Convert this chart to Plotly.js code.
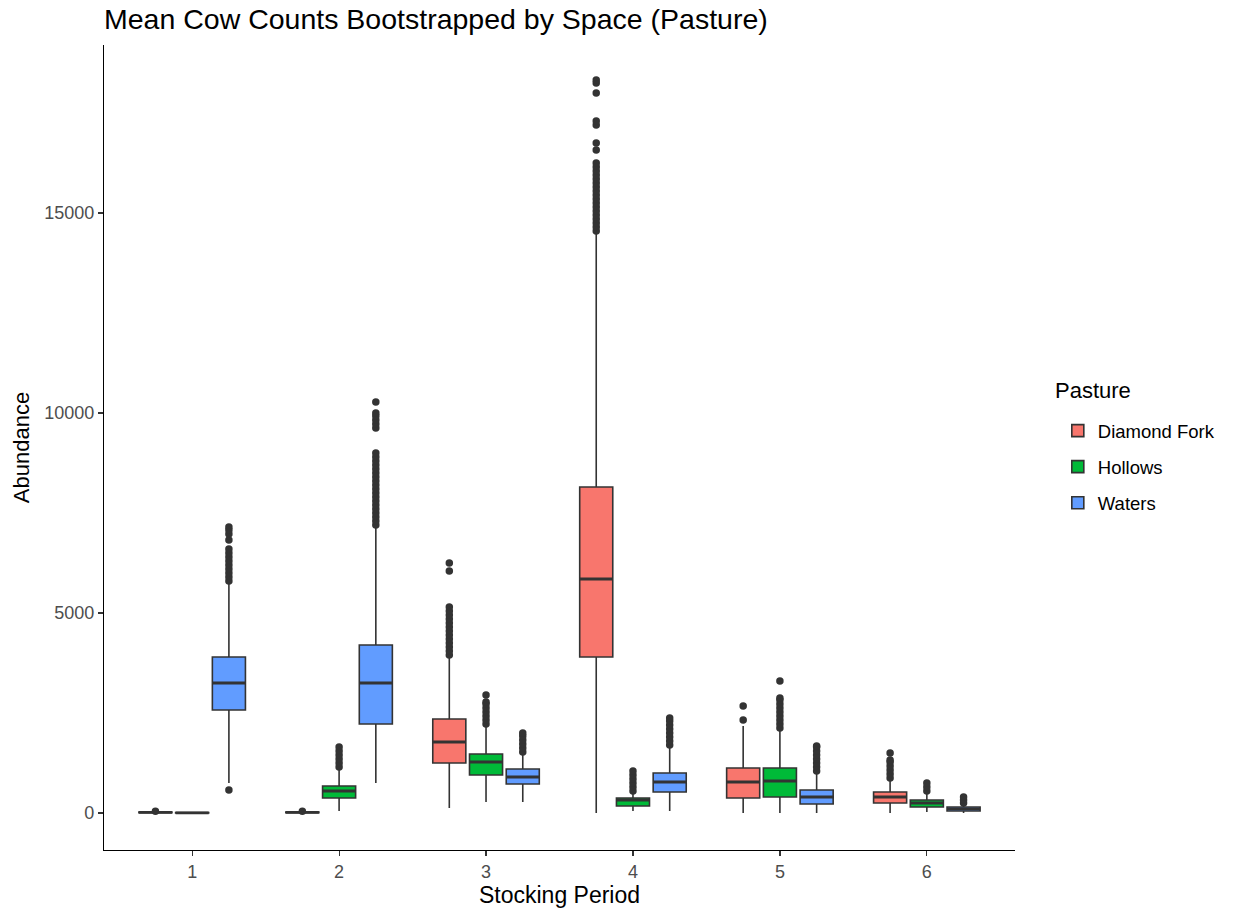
<!DOCTYPE html>
<html><head><meta charset="utf-8">
<script src="https://cdn.plot.ly/plotly-3.0.1.min.js"></script>
<style>body{margin:0;background:#fff}#chart{width:1235px;height:911px}</style>
</head><body><div id="chart"></div><script>
const periods = [1, 2, 3, 4, 5, 6];
const periodLabels = ["1", "2", "3", "4", "5", "6"];
const pastures = ["Diamond Fork", "Hollows", "Waters"];
const colors = ["#F8766D", "#00BA38", "#619CFF"];

// Diamond Fork
const dfQ1 = [5, 5, 1250, 3900, 375, 250];
const dfMed = [15, 15, 1775, 5850, 775, 400];
const dfQ3 = [25, 25, 2350, 8150, 1125, 525];
const dfLo = [0, 0, 125, 0, 0, 0];
const dfHi = [40, 40, 3900, 14500, 2175, 825];
const dfOut = [
  [45],
  [45],
  [3950, 4050, 4150, 4250, 4350, 4450, 4550, 4650, 4750, 4850, 4950, 5050, 5150, 6050, 6250],
  [14550, 14650, 14750, 14850, 14950, 15050, 15150, 15250, 15350, 15450, 15550, 15650, 15750, 15850, 15950, 16050, 16150, 16250, 16575, 16750, 17200, 17300, 18000, 18250, 18325],
  [2325, 2675],
  [875, 975, 1075, 1175, 1275, 1325, 1500]
];

// Hollows
const hoQ1 = [0, 375, 950, 175, 400, 150];
const hoMed = [5, 550, 1275, 325, 800, 250];
const hoQ3 = [10, 675, 1475, 375, 1125, 325];
const hoLo = [0, 50, 275, 50, 0, 25];
const hoHi = [20, 1100, 2175, 500, 2075, 500];
const hoOut = [
  [],
  [1150, 1250, 1350, 1450, 1550, 1650],
  [2225, 2325, 2425, 2525, 2625, 2725, 2775, 2950],
  [550, 650, 750, 850, 950, 1050],
  [2125, 2225, 2325, 2425, 2525, 2625, 2725, 2825, 2875, 3300],
  [550, 650, 750]
];

// Waters
const waQ1 = [2575, 2225, 725, 525, 225, 50];
const waMed = [3250, 3250, 900, 775, 400, 105];
const waQ3 = [3900, 4200, 1100, 1000, 575, 150];
const waLo = [750, 750, 275, 50, 0, 0];
const waHi = [5750, 7150, 1475, 1650, 1000, 200];
const waOut = [
  [575, 5800, 5900, 6000, 6100, 6200, 6300, 6400, 6500, 6600, 6825, 6975, 7075, 7150],
  [7200, 7300, 7400, 7500, 7600, 7700, 7800, 7900, 8000, 8100, 8200, 8300, 8400, 8500, 8600, 8700, 8800, 8900, 9000, 9625, 9725, 9825, 9925, 10000, 10275],
  [1525, 1625, 1725, 1825, 1925, 2000],
  [1700, 1800, 1900, 2000, 2100, 2200, 2300, 2375],
  [1050, 1150, 1250, 1350, 1450, 1550, 1650, 1675],
  [250, 325, 400]
];

const stats = [
  {q1: dfQ1, med: dfMed, q3: dfQ3, lo: dfLo, hi: dfHi, out: dfOut},
  {q1: hoQ1, med: hoMed, q3: hoQ3, lo: hoLo, hi: hoHi, out: hoOut},
  {q1: waQ1, med: waMed, q3: waQ3, lo: waLo, hi: waHi, out: waOut}
];

const dodge = 0.25, boxW = 0.225, ink = "#333333";
const traces = [];
const outX = [], outY = [], medX = [], medY = [];
stats.forEach((s, i) => {
  const off = (i - 1) * dodge;
  const xs = periods.map(p => p + off);
  traces.push({
    type: "box", name: pastures[i], legendgroup: pastures[i],
    x: xs, q1: s.q1, median: s.med, q3: s.q3,
    lowerfence: s.lo, upperfence: s.hi,
    width: boxW, whiskerwidth: 0, boxpoints: false,
    fillcolor: colors[i], line: {color: ink, width: 1.6},
    hoverinfo: "skip"
  });
  xs.forEach((x, k) => {
    s.out[k].forEach(v => { outX.push(x); outY.push(v); });
    medX.push(x - boxW / 2, x + boxW / 2, null);
    medY.push(s.med[k], s.med[k], null);
  });
});
traces.push({
  type: "scatter", mode: "lines", x: medX, y: medY, showlegend: false,
  line: {color: ink, width: 2.8}, hoverinfo: "skip"
});
traces.push({
  type: "scatter", mode: "markers", x: outX, y: outY, showlegend: false,
  marker: {color: ink, size: 7.5, line: {width: 0}}, hoverinfo: "skip"
});

const layout = {
  width: 1235, height: 911,
  paper_bgcolor: "#fff", plot_bgcolor: "#fff",
  margin: {l: 104, r: 220, t: 45, b: 61},
  font: {family: "Liberation Sans, Arial, sans-serif", color: "#000"},
  showlegend: true, boxmode: "overlay",
  title: {
    text: "Mean Cow Counts Bootstrapped by Space (Pasture)",
    font: {size: 28.5, color: "#000"},
    x: 0, xref: "paper", xanchor: "left",
    y: 0.99, yref: "container", yanchor: "top"
  },
  xaxis: {
    range: [0.4, 6.6], tickvals: periods, ticktext: periodLabels,
    showgrid: false, zeroline: false, showline: true, linecolor: "#000", linewidth: 1.2,
    ticks: "outside", ticklen: 5, tickcolor: "#333", tickwidth: 1.2,
    tickfont: {size: 18, color: "#4D4D4D"},
    title: {text: "Stocking Period", font: {size: 23, color: "#000"}, standoff: 6}
  },
  yaxis: {
    range: [-925, 19200], tickvals: [0, 5000, 10000, 15000],
    ticktext: ["0", "5000", "10000", "15000"],
    showgrid: false, zeroline: false, showline: true, linecolor: "#000", linewidth: 1.2,
    ticks: "outside", ticklen: 5, tickcolor: "#333", tickwidth: 1.2,
    tickfont: {size: 18, color: "#4D4D4D"},
    title: {text: "Abundance", font: {size: 22, color: "#000"}, standoff: 8}
  },
  legend: {
    x: 1.047, xanchor: "left", y: 0.544, yanchor: "top",
    font: {size: 18.5, color: "#000"},
    traceorder: "grouped", tracegroupgap: 9,
    bgcolor: "rgba(0,0,0,0)"
  },
  annotations: [{
    text: "Pasture", showarrow: false,
    xref: "paper", yref: "paper", x: 1.0417, y: 0.5714,
    xanchor: "left", yanchor: "middle",
    font: {size: 22, color: "#000"}
  }]
};

Plotly.newPlot("chart", traces, layout, {displayModeBar: false, staticPlot: true});
</script></body></html>
